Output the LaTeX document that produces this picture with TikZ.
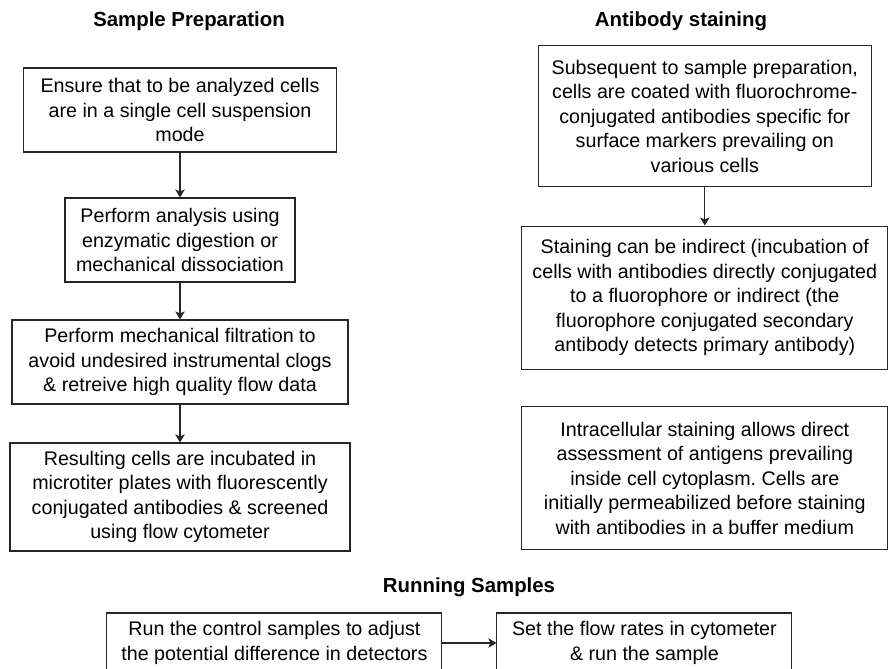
\documentclass[tikz,border=0pt]{standalone}
\usepackage{fontspec}
\setmainfont{Liberation Sans}
\frenchspacing
\usetikzlibrary{arrows.meta,positioning}
\definecolor{flowline}{HTML}{262626}

\begin{document}
\begin{tikzpicture}[
  stepbox/.style={draw=flowline, line width=0.8pt, align=center, inner sep=0pt,
                  font=\fontsize{14}{17.4}\selectfont, text=black},
  phase/.style={font=\fontsize{14.5}{17}\selectfont\bfseries, text=black, anchor=base},
  arr/.style={-{Stealth[length=2mm,width=2.4mm,inset=0.5mm]}, flowline, line width=0.8pt},
]
\useasboundingbox (0,0) rectangle (222.5mm,-167.25mm);

% Section headings
\node[phase] (hprep) at (47.25mm,-6.7mm)  {Sample Preparation};
\node[phase] (hstain) at (170.25mm,-6.7mm) {Antibody staining};
\node[phase] (hrun) at (117.25mm,-148mm)  {Running Samples};

% Sample preparation column
\node[stepbox, minimum width=78.25mm, minimum height=21mm] (prep1) at (45mm,-27.5mm)
  {Ensure that to be analyzed cells\\are in a single cell suspension\\mode};
\node[stepbox, minimum width=57.5mm, minimum height=21mm] (prep2) at (45mm,-60mm)
  {Perform analysis using\\enzymatic digestion or\\mechanical dissociation};
\node[stepbox, minimum width=84mm, minimum height=21mm] (prep3) at (45mm,-90.5mm)
  {Perform mechanical filtration to\\avoid undesired instrumental clogs\\\& retreive high quality flow data};
\node[stepbox, minimum width=85mm, minimum height=27mm] (prep4) at (45mm,-124.25mm)
  {Resulting cells are incubated in\\microtiter plates with fluorescently\\conjugated antibodies \& screened\\using flow cytometer};

% Antibody staining column
\node[stepbox, minimum width=83.25mm, minimum height=35.25mm] (stain1) at (176.2mm,-29.1mm)
  {Subsequent to sample preparation,\\cells are coated with fluorochrome-\\conjugated antibodies specific for\\surface markers prevailing on\\various cells};
\node[stepbox, minimum width=91.5mm, minimum height=35.75mm] (stain2) at (176.2mm,-74.4mm)
  {Staining can be indirect (incubation of\\cells with antibodies directly conjugated\\to a fluorophore or indirect (the\\fluorophore conjugated secondary\\antibody detects primary antibody)};
\node[stepbox, minimum width=91.5mm, minimum height=35.75mm] (stain3) at (176.2mm,-119.6mm)
  {Intracellular staining allows direct\\assessment of antigens prevailing\\inside cell cytoplasm. Cells are\\initially permeabilized before staining\\with antibodies in a buffer medium};

% Running samples row
\node[stepbox, minimum width=83.75mm, minimum height=15mm] (run1) at (68.6mm,-160.75mm)
  {Run the control samples to adjust\\the potential difference in detectors};
\node[stepbox, minimum width=73.75mm, minimum height=15mm] (run2) at (161.1mm,-160.75mm)
  {Set the flow rates in cytometer\\\& run the sample};

% Connectors
\draw[arr] (prep1) -- (prep2);
\draw[arr] (prep2) -- (prep3);
\draw[arr] (prep3) -- (prep4);
\draw[arr] (stain1) -- (stain2);
\draw[arr] (run1) -- (run2);

\end{tikzpicture}
\end{document}
